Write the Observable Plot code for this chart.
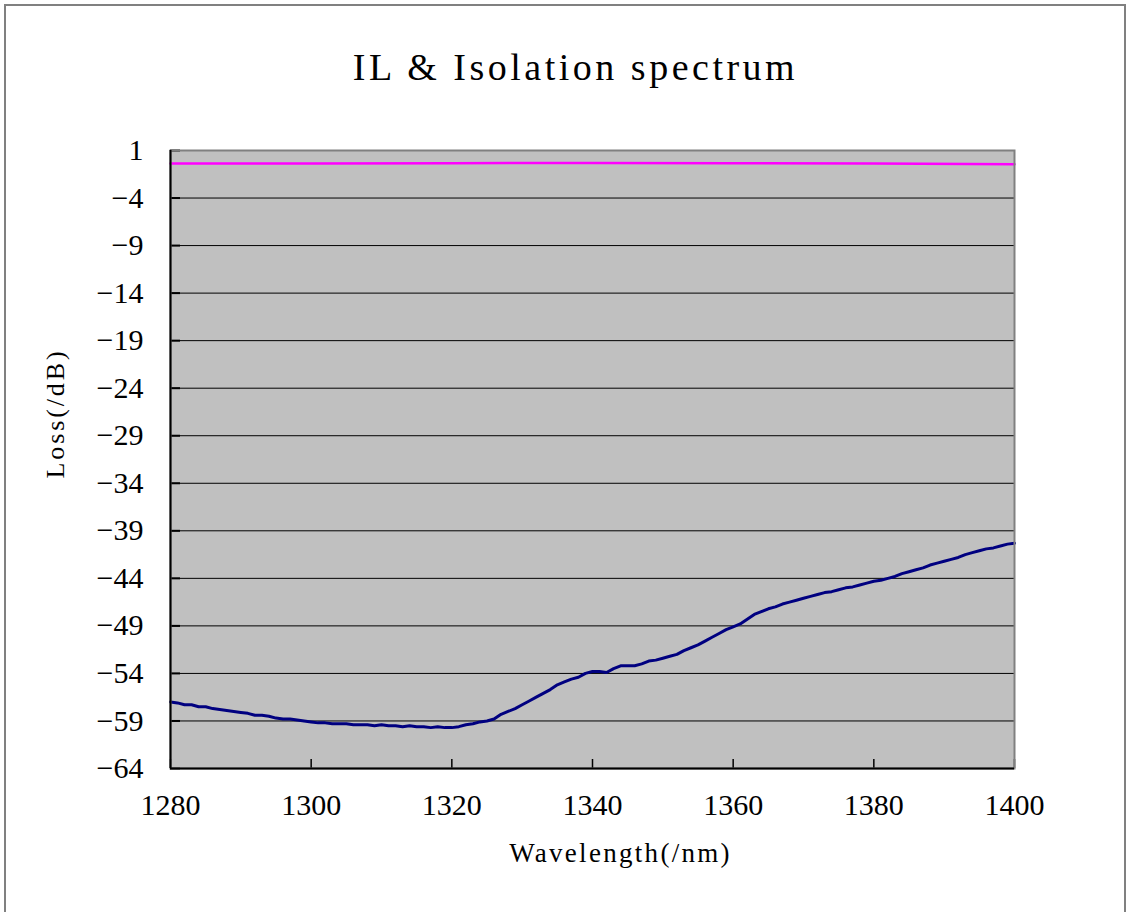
<!DOCTYPE html>
<html>
<head>
<meta charset="utf-8">
<script src="https://cdn.jsdelivr.net/npm/d3@7"></script>
<script src="https://cdn.jsdelivr.net/npm/@observablehq/plot@0.6"></script>
<style>
  html, body { margin: 0; padding: 0; background: #fff; overflow: hidden; }
  #wrap { position: relative; width: 1129px; height: 912px; }
  #border { position: absolute; left: 4px; top: 4px; width: 1118px; height: 940px;
            border: 2px solid #808080; box-sizing: content-box; pointer-events: none; }
  #chart { position: absolute; left: 0; top: 0; }
</style>
</head>
<body>
<div id="wrap"><div id="chart"></div><div id="border"></div></div>
<script>
const title = "IL & Isolation spectrum";
const xLabel = "Wavelength(/nm)";
const yLabel = "Loss(/dB)";
const xTicks = [1280, 1300, 1320, 1340, 1360, 1380, 1400];
const yTicks = [1, -4, -9, -14, -19, -24, -29, -34, -39, -44, -49, -54, -59, -64];

const wavelength = [
  1280,1281,1282,1283,1284,1285,1286,1287,1288,1289,
  1290,1291,1292,1293,1294,1295,1296,1297,1298,1299,
  1300,1301,1302,1303,1304,1305,1306,1307,1308,1309,
  1310,1311,1312,1313,1314,1315,1316,1317,1318,1319,
  1320,1321,1322,1323,1324,1325,1326,1327,1328,1329,
  1330,1331,1332,1333,1334,1335,1336,1337,1338,1339,
  1340,1341,1342,1343,1344,1345,1346,1347,1348,1349,
  1350,1351,1352,1353,1354,1355,1356,1357,1358,1359,
  1360,1361,1362,1363,1364,1365,1366,1367,1368,1369,
  1370,1371,1372,1373,1374,1375,1376,1377,1378,1379,
  1380,1381,1382,1383,1384,1385,1386,1387,1388,1389,
  1390,1391,1392,1393,1394,1395,1396,1397,1398,1399,
  1400
];
const isolation = [
  -57.0,-57.1,-57.3,-57.3,-57.5,-57.5,-57.7,-57.8,-57.9,-58.0,
  -58.1,-58.2,-58.4,-58.4,-58.5,-58.7,-58.8,-58.8,-58.9,-59.0,
  -59.1,-59.2,-59.2,-59.3,-59.3,-59.3,-59.4,-59.4,-59.4,-59.5,
  -59.4,-59.5,-59.5,-59.6,-59.5,-59.6,-59.6,-59.7,-59.6,-59.7,
  -59.7,-59.6,-59.4,-59.3,-59.1,-59.0,-58.8,-58.3,-58.0,-57.7,
  -57.3,-56.9,-56.5,-56.1,-55.7,-55.2,-54.9,-54.6,-54.4,-54.0,
  -53.8,-53.8,-53.9,-53.5,-53.2,-53.2,-53.2,-53.0,-52.7,-52.6,
  -52.4,-52.2,-52.0,-51.6,-51.3,-51.0,-50.6,-50.2,-49.8,-49.4,
  -49.1,-48.8,-48.3,-47.8,-47.5,-47.2,-47.0,-46.7,-46.5,-46.3,
  -46.1,-45.9,-45.7,-45.5,-45.4,-45.2,-45.0,-44.9,-44.7,-44.5,
  -44.3,-44.2,-44.0,-43.8,-43.5,-43.3,-43.1,-42.9,-42.6,-42.4,
  -42.2,-42.0,-41.8,-41.5,-41.3,-41.1,-40.9,-40.8,-40.6,-40.4,
  -40.3
];
const ilWavelength = [1280, 1300, 1320, 1340, 1360, 1380, 1400];
const ilValues = [-0.38, -0.36, -0.33, -0.31, -0.33, -0.37, -0.44];

const isoData = wavelength.map((w, i) => ({w, v: isolation[i]}));
const ilData = ilWavelength.map((w, i) => ({w, v: ilValues[i]}));

const W = 1129, H = 912;
const mL = 170, mT = 150, mR = 115, mB = 144;
const frameW = W - mL - mR, frameH = H - mT - mB;

const serif = "'Liberation Serif', 'Times New Roman', serif";

const chart = Plot.plot({
  width: W, height: H,
  marginLeft: mL, marginTop: mT, marginRight: mR, marginBottom: mB,
  style: {fontFamily: serif, fontSize: "30px", color: "#000", background: "transparent", overflow: "visible"},
  x: {domain: [1280, 1400]},
  y: {domain: [-64, 1]},
  marks: [
    Plot.frame({fill: "#c0c0c0", stroke: "none"}),
    Plot.ruleY(yTicks, {stroke: "#000", strokeWidth: 1}),
    Plot.ruleY(yTicks, {stroke: "#000", strokeWidth: 2, insetRight: frameW - 10}),
    Plot.ruleX(xTicks, {stroke: "#000", strokeWidth: 1.5, insetTop: frameH - 9}),
    Plot.line(ilData, {x: "w", y: "v", stroke: "#ff00ff", strokeWidth: 2.5}),
    Plot.line(isoData, {x: "w", y: "v", stroke: "#000080", strokeWidth: 3, curve: "linear"}),
    Plot.frame({stroke: "#808080", strokeWidth: 2}),
    Plot.ruleX([1280], {stroke: "#000", strokeWidth: 2}),
    Plot.ruleY([-64], {stroke: "#000", strokeWidth: 2}),
    Plot.axisY({ticks: yTicks, tickSize: 0, tickPadding: 27, label: null, fontSize: 30, tickFormat: d => d3.format("")(d).replace("-", "\u2212")}),
    Plot.axisX({ticks: xTicks, tickSize: 0, tickPadding: 25, label: null, fontSize: 30, tickFormat: d => String(d)}),
    Plot.text([title], {frameAnchor: "top", textAnchor: "middle", lineAnchor: "middle", dy: -83, dx: -17, fontFamily: serif, fontSize: 38, fill: "#000"}),
    Plot.text([xLabel], {frameAnchor: "bottom", textAnchor: "middle", lineAnchor: "middle", dy: 85, dx: 28, fontFamily: serif, fontSize: 27, fill: "#000"}),
    Plot.text([yLabel], {frameAnchor: "left", textAnchor: "middle", lineAnchor: "middle", dx: -115, dy: -46, rotate: -90, fontFamily: serif, fontSize: 26, fill: "#000"})
  ]
});
const spacing = {[title]: "3.5px", [xLabel]: "2.3px", [yLabel]: "2.9px"};
d3.select(chart).selectAll("text").each(function() {
  const t = this.textContent;
  if (spacing[t]) this.style.letterSpacing = spacing[t];
});
document.getElementById("chart").appendChild(chart);
</script>
</body>
</html>
